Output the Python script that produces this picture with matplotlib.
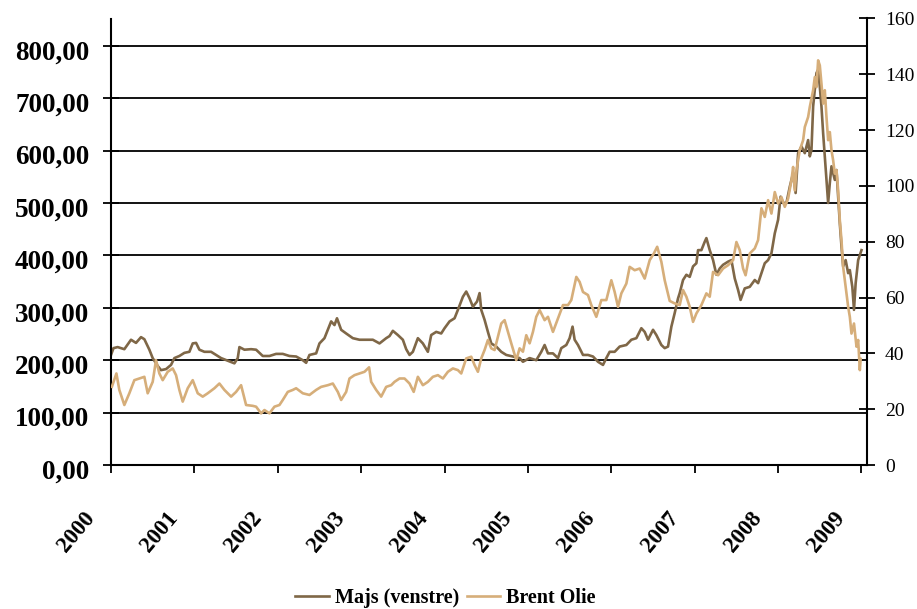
import matplotlib
matplotlib.use("Agg")
import matplotlib.pyplot as plt
from matplotlib.transforms import ScaledTranslation

# ---------------- data ----------------
corn_year = [2000.00, 2000.03, 2000.08, 2000.16, 2000.24, 2000.30, 2000.36, 2000.40, 2000.46, 2000.50,
             2000.56, 2000.60, 2000.66, 2000.72, 2000.76, 2000.82, 2000.88, 2000.94, 2000.98, 2001.02,
             2001.06, 2001.12, 2001.20, 2001.26, 2001.32, 2001.40, 2001.48, 2001.52, 2001.54, 2001.60,
             2001.68, 2001.74, 2001.82, 2001.90, 2001.98, 2002.06, 2002.14, 2002.22, 2002.30, 2002.34,
             2002.38, 2002.46, 2002.50, 2002.56, 2002.60, 2002.64, 2002.68, 2002.71, 2002.76, 2002.82,
             2002.90, 2002.98, 2003.06, 2003.14, 2003.22, 2003.30, 2003.34, 2003.38, 2003.44, 2003.50,
             2003.54, 2003.58, 2003.62, 2003.68, 2003.74, 2003.80, 2003.84, 2003.90, 2003.96, 2004.00,
             2004.06, 2004.12, 2004.16, 2004.22, 2004.26, 2004.30, 2004.34, 2004.39, 2004.42, 2004.44,
             2004.48, 2004.52, 2004.56, 2004.62, 2004.68, 2004.74, 2004.82, 2004.90, 2004.94, 2005.02,
             2005.10, 2005.16, 2005.20, 2005.24, 2005.30, 2005.36, 2005.40, 2005.46, 2005.50, 2005.535,
             2005.56, 2005.60, 2005.66, 2005.72, 2005.78, 2005.84, 2005.90, 2005.94, 2005.98, 2006.04,
             2006.10, 2006.18, 2006.24, 2006.30, 2006.36, 2006.40, 2006.44, 2006.50, 2006.54, 2006.60,
             2006.64, 2006.68, 2006.72, 2006.76, 2006.80, 2006.82, 2006.86, 2006.90, 2006.94, 2006.98,
             2007.02, 2007.04, 2007.08, 2007.12, 2007.14, 2007.18, 2007.22, 2007.26, 2007.30, 2007.34,
             2007.40, 2007.44, 2007.48, 2007.52, 2007.55, 2007.60, 2007.66, 2007.72, 2007.76, 2007.80,
             2007.84, 2007.88, 2007.92, 2007.96, 2008.00, 2008.03, 2008.06, 2008.10, 2008.14, 2008.18,
             2008.21, 2008.24, 2008.28, 2008.32, 2008.36, 2008.38, 2008.40, 2008.42, 2008.44, 2008.46,
             2008.48, 2008.50, 2008.52, 2008.54, 2008.56, 2008.58, 2008.60, 2008.62, 2008.64, 2008.66,
             2008.68, 2008.70, 2008.72, 2008.74, 2008.76, 2008.78, 2008.81, 2008.84, 2008.86, 2008.89,
             2008.91, 2008.93, 2008.96, 2009.00]
corn_price = [210, 223, 225, 221, 239, 233, 244, 240, 220, 204,
              189, 181, 183, 191, 204, 208, 214, 216, 232, 233,
              220, 216, 216, 210, 204, 199, 194, 204, 225, 220,
              221, 220, 208, 208, 212, 212, 208, 207, 200, 195,
              210, 213, 232, 242, 258, 274, 267, 280, 258, 251,
              242, 239, 239, 239, 232, 242, 246, 256, 248, 239,
              221, 210, 216, 242, 232, 216, 248, 254, 251, 261,
              274, 280, 296, 321, 331, 318, 302, 312, 328, 296,
              277, 254, 232, 226, 216, 210, 207, 204, 197, 204,
              200, 216, 229, 213, 213, 204, 223, 229, 242, 264,
              239, 229, 210, 210, 207, 197, 191, 204, 216, 216,
              226, 229, 239, 242, 261, 254, 239, 258, 248, 229,
              223, 226, 264, 290, 318, 328, 353, 363, 359, 379,
              385, 410, 410, 426, 433, 410, 391, 363, 375, 382,
              388, 391, 356, 334, 315, 337, 340, 353, 347, 366,
              385, 391, 404, 442, 468, 512, 500, 500, 531, 557,
              519, 595, 608, 595, 620, 589, 601, 684, 716, 748,
              754, 722, 684, 633, 589, 544, 500, 538, 570, 557,
              544, 563, 512, 461, 417, 379, 391, 366, 372, 340,
              296, 347, 391, 410]

brent_year = [2000.01, 2000.065, 2000.10, 2000.16, 2000.22, 2000.28, 2000.34, 2000.40, 2000.44, 2000.50,
              2000.54, 2000.58, 2000.62, 2000.68, 2000.74, 2000.78, 2000.82, 2000.86, 2000.92, 2000.98,
              2001.04, 2001.10, 2001.16, 2001.24, 2001.30, 2001.36, 2001.44, 2001.50, 2001.56, 2001.62,
              2001.70, 2001.74, 2001.80, 2001.84, 2001.90, 2001.96, 2002.02, 2002.06, 2002.12, 2002.18,
              2002.22, 2002.30, 2002.38, 2002.46, 2002.52, 2002.60, 2002.66, 2002.72, 2002.76, 2002.82,
              2002.86, 2002.92, 2002.98, 2003.04, 2003.095, 2003.12, 2003.18, 2003.24, 2003.30, 2003.36,
              2003.40, 2003.46, 2003.52, 2003.58, 2003.63, 2003.68, 2003.74, 2003.80, 2003.86, 2003.92,
              2003.98, 2004.04, 2004.10, 2004.16, 2004.20, 2004.26, 2004.32, 2004.36, 2004.40, 2004.44,
              2004.48, 2004.52, 2004.56, 2004.60, 2004.64, 2004.68, 2004.72, 2004.76, 2004.80, 2004.86,
              2004.90, 2004.94, 2004.98, 2005.02, 2005.06, 2005.10, 2005.14, 2005.20, 2005.24, 2005.30,
              2005.36, 2005.42, 2005.48, 2005.52, 2005.58, 2005.62, 2005.66, 2005.72, 2005.76, 2005.82,
              2005.88, 2005.94, 2006.00, 2006.04, 2006.08, 2006.12, 2006.18, 2006.22, 2006.28, 2006.34,
              2006.40, 2006.46, 2006.51, 2006.55, 2006.60, 2006.64, 2006.70, 2006.76, 2006.82, 2006.86,
              2006.90, 2006.94, 2006.98, 2007.02, 2007.08, 2007.14, 2007.18, 2007.22, 2007.28, 2007.34,
              2007.40, 2007.46, 2007.50, 2007.54, 2007.58, 2007.61, 2007.66, 2007.72, 2007.76, 2007.80,
              2007.84, 2007.88, 2007.92, 2007.96, 2008.00, 2008.04, 2008.08, 2008.12, 2008.16, 2008.18,
              2008.20, 2008.22, 2008.26, 2008.30, 2008.32, 2008.36, 2008.38, 2008.42, 2008.44, 2008.46,
              2008.48, 2008.50, 2008.52, 2008.54, 2008.56, 2008.58, 2008.60, 2008.62, 2008.64, 2008.66,
              2008.68, 2008.70, 2008.72, 2008.74, 2008.76, 2008.78, 2008.81, 2008.84, 2008.86, 2008.88,
              2008.91, 2008.94, 2008.96, 2008.98, 2008.99]
brent_price = [28.0, 32.8, 26.9, 21.5, 25.7, 30.4, 31.0, 31.6, 25.7, 29.8,
               37.6, 32.8, 30.4, 33.4, 34.6, 32.2, 26.9, 22.7, 27.5, 30.4,
               25.7, 24.5, 25.7, 27.5, 29.2, 26.9, 24.5, 26.2, 28.6, 21.5,
               21.2, 20.9, 18.5, 19.7, 18.5, 20.9, 21.5, 23.3, 26.2, 26.9,
               27.5, 25.7, 25.1, 26.9, 28.0, 28.6, 29.2, 26.2, 23.3, 26.2,
               31.0, 32.2, 32.8, 33.4, 35.0, 29.8, 26.9, 24.5, 28.0, 28.6,
               29.8, 31.0, 31.0, 29.2, 26.2, 31.6, 28.6, 29.8, 31.6, 32.2,
               31.0, 33.4, 34.6, 34.0, 32.8, 38.2, 38.8, 35.8, 33.4, 38.2,
               41.2, 44.8, 41.8, 41.2, 45.9, 50.7, 51.9, 47.7, 43.6, 37.6,
               41.8, 40.6, 46.5, 43.6, 47.7, 53.1, 55.5, 51.9, 53.1, 47.7,
               52.5, 57.3, 57.3, 59.1, 67.4, 65.6, 62.0, 60.9, 57.3, 53.1,
               59.1, 59.1, 66.2, 62.0, 56.7, 61.5, 65.0, 71.0, 69.8, 70.4,
               66.8, 73.4, 75.8, 78.2, 72.8, 66.2, 58.8, 57.9, 57.3, 62.7,
               60.3, 56.7, 51.3, 54.3, 57.3, 61.5, 60.3, 69.2, 68.0, 70.4,
               71.6, 73.4, 79.9, 77.0, 70.4, 68.0, 75.8, 77.6, 80.6, 92.0,
               88.9, 94.9, 90.1, 97.8, 93.7, 96.0, 92.5, 95.5, 102.0, 106.8,
               98.4, 105.6, 112.8, 116.4, 121.1, 124.7, 128.3, 134.3, 139.0, 135.4,
               145.0, 143.2, 136.6, 129.5, 134.3, 124.7, 116.4, 119.3, 112.8, 109.2,
               104.4, 105.6, 98.4, 87.7, 80.5, 71.0, 63.8, 56.7, 53.1, 47.1,
               50.7, 42.4, 44.8, 34.0, 38.0]

year_ticks = [2000, 2001, 2002, 2003, 2004, 2005, 2006, 2007, 2008, 2009]
year_labels = [str(y) for y in year_ticks]
left_ticks = [0, 100, 200, 300, 400, 500, 600, 700, 800]
left_labels = ["%d,00" % v for v in left_ticks]
right_ticks = [0, 20, 40, 60, 80, 100, 120, 140, 160]
series_names = ["Majs (venstre)", "Brent Olie"]

# ---------------- style ----------------
DARK = "#7f6747"
TAN = "#d6ae7a"
SERIF = ["Liberation Serif", "DejaVu Serif"]
plt.rcParams["font.family"] = SERIF

W, H = 917, 609
fig = plt.figure(figsize=(W / 100, H / 100), dpi=100)
x0, x1, yb, yt = 111, 867, 465, 18.5
ax = fig.add_axes([x0 / W, 1 - yb / H, (x1 - x0) / W, (yb - yt) / H])
ax2 = ax.twinx()

for v in left_ticks[1:]:
    ax.axhline(v, color="black", lw=1.3, zorder=0)

l1, = ax.plot(corn_year, corn_price, color=DARK, lw=1.9, zorder=2)
l2, = ax2.plot(brent_year, brent_price, color=TAN, lw=1.9, zorder=2)

ax.set_xlim(2000, 2009.066)
ax.set_ylim(0, 852)
ax2.set_ylim(0, 160)

for a in (ax, ax2):
    a.spines["top"].set_visible(False)
ax.spines["right"].set_visible(False)
ax2.spines["left"].set_visible(False)
ax2.spines["bottom"].set_visible(False)
for sp in ("left", "bottom"):
    ax.spines[sp].set_linewidth(1.5)
ax2.spines["right"].set_linewidth(1.5)

ax.set_yticks(left_ticks)
ax.set_yticklabels(left_labels, fontsize=19.5, fontweight="bold")
ax.tick_params(axis="y", direction="inout", length=12, width=1.3, pad=9.5)

ax2.set_yticks(right_ticks)
ax2.set_yticklabels([str(v) for v in right_ticks], fontsize=14)
ax2.tick_params(axis="y", direction="inout", length=12, width=1.3, pad=7)

ax.set_xticks(year_ticks)
ax.set_xticklabels(year_labels, fontsize=16.5, fontweight="bold", rotation=50,
                   ha="right", va="top")
ax.tick_params(axis="x", direction="out", length=6, width=1.3, pad=25)

off = ScaledTranslation(-12 / 100, 0, fig.dpi_scale_trans)
for lab in ax.get_xticklabels():
    lab.set_transform(lab.get_transform() + off)
offy = ScaledTranslation(0, -4 / 100, fig.dpi_scale_trans)
for lab in ax.get_yticklabels():
    lab.set_transform(lab.get_transform() + offy)

leg = fig.legend([l1, l2], series_names, loc="center", bbox_to_anchor=(0.486, 1 - 598 / H),
                 ncol=2, frameon=False, handlelength=1.65, handletextpad=0.3,
                 columnspacing=0.4, borderpad=0, prop={"family": SERIF, "weight": "bold", "size": 14.5})

fig.savefig("out.png", dpi=100)
